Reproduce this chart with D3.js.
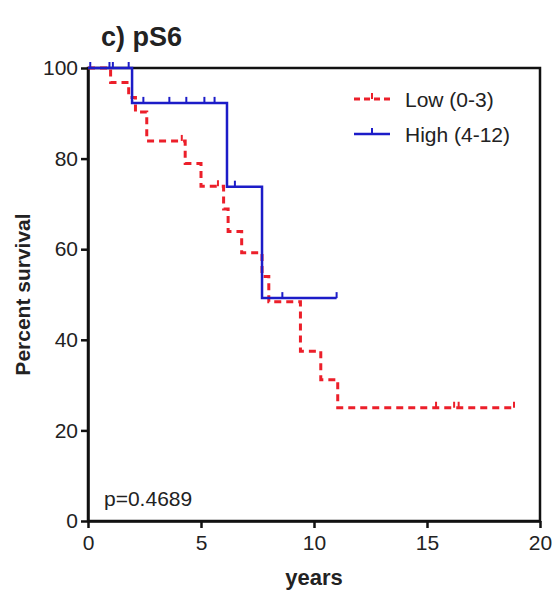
<!DOCTYPE html>
<html>
<head>
<meta charset="utf-8">
<script src="https://cdn.jsdelivr.net/npm/d3@7"></script>
<style>
  body { margin: 0; background: #fff; }
  text { font-family: "Liberation Sans", Arial, sans-serif; fill: #222; }
</style>
</head>
<body>
<svg></svg>
<script>
// Low (0-3) group: step times (years) and survival (%)
let lowTimes = [0, 1.0, 1.8, 2.1, 2.6, 4.3, 5.0, 6.0, 6.2, 6.8, 7.7, 8.0, 9.4, 10.3, 11.05]
let lowSurv  = [100, 96.8, 93.5, 90.3, 83.9, 78.9, 73.9, 68.9, 63.9, 59.2, 54.0, 48.4, 37.5, 31.2, 25.0]
let lowEnd = 18.85
let lowCensor = [4.15, 5.75, 15.4, 16.2, 16.4, 18.85]

// High (4-12) group
let highTimes = [0, 1.95, 6.15, 7.7]
let highSurv  = [100, 92.3, 73.8, 49.2]
let highEnd = 11.0
let highCensor = [0.1, 0.95, 1.1, 1.8, 2.45, 3.6, 4.35, 5.15, 5.6, 6.5, 8.6, 11.0]

let xTicks = [0, 5, 10, 15, 20]
let yTicks = [0, 20, 40, 60, 80, 100]

let width = 557
let height = 593
let mLeft = 88, mRight = 540, mTop = 68, mBottom = 521

let svg = d3.select('svg').attr('width', width).attr('height', height)

let xScale = d3.scaleLinear().domain([0, 20]).range([mLeft, mRight])
let yScale = d3.scaleLinear().domain([0, 100]).range([mBottom, mTop])

// frame
svg.append('rect')
  .attr('x', mLeft).attr('y', mTop)
  .attr('width', mRight - mLeft).attr('height', mBottom - mTop)
  .attr('fill', 'none').attr('stroke', '#111').attr('stroke-width', 2.5)

let xAxis = d3.axisBottom(xScale).tickValues(xTicks).tickSize(7).tickSizeOuter(0)
let gx = svg.append('g').attr('transform', 'translate(0,' + mBottom + ')').call(xAxis)
let yAxis = d3.axisLeft(yScale).tickValues(yTicks).tickSize(7).tickSizeOuter(0)
let gy = svg.append('g').attr('transform', 'translate(' + mLeft + ',0)').call(yAxis)

;[gx, gy].forEach(g => {
  g.select('.domain').attr('stroke', '#111').attr('stroke-width', 2.5)
  g.selectAll('.tick line').attr('stroke', '#111').attr('stroke-width', 2.5)
  g.selectAll('.tick text')
    .style('font-family', '"Liberation Sans", Arial, sans-serif')
    .style('font-size', '21px').attr('fill', '#1a1a1a')
})
gx.selectAll('.tick text').attr('dy', '0.92em')
gy.selectAll('.tick text').attr('x', -10)

let stepPts = (times, surv, end) => {
  let pts = times.map((t, i) => [t, surv[i]])
  pts.push([end, surv[surv.length - 1]])
  return pts
}
let survAt = (times, surv, t) => {
  let s = surv[0]
  times.forEach((tt, i) => { if (tt <= t) s = surv[i] })
  return s
}

let line = d3.line()
  .x(d => xScale(d[0]))
  .y(d => yScale(d[1]))
  .curve(d3.curveStepAfter)

let drawGroup = (times, surv, end, censor, color, dash, w) => {
  svg.append('path')
    .datum(stepPts(times, surv, end))
    .attr('d', line)
    .attr('fill', 'none')
    .attr('stroke', color)
    .attr('stroke-width', w)
    .attr('stroke-dasharray', dash)
  svg.selectAll(null)
    .data(censor)
    .enter()
    .append('line')
    .attr('x1', d => xScale(d)).attr('x2', d => xScale(d))
    .attr('y1', d => yScale(survAt(times, surv, d)))
    .attr('y2', d => yScale(survAt(times, surv, d)) - 6)
    .attr('stroke', color)
    .attr('stroke-width', 2)
}

drawGroup(lowTimes, lowSurv, lowEnd, lowCensor, '#ec1f2a', '7,5', 3)
drawGroup(highTimes, highSurv, highEnd, highCensor, '#1c1cc8', null, 2.5)

// legend
svg.append('line').attr('x1', 354).attr('x2', 390).attr('y1', 99).attr('y2', 99)
  .attr('stroke', '#ec1f2a').attr('stroke-width', 3).attr('stroke-dasharray', '6,4')
svg.append('line').attr('x1', 372).attr('x2', 372).attr('y1', 99).attr('y2', 93)
  .attr('stroke', '#ec1f2a').attr('stroke-width', 2)
svg.append('line').attr('x1', 354).attr('x2', 390).attr('y1', 134).attr('y2', 134)
  .attr('stroke', '#1c1cc8').attr('stroke-width', 2.5)
svg.append('line').attr('x1', 372).attr('x2', 372).attr('y1', 134).attr('y2', 128)
  .attr('stroke', '#1c1cc8').attr('stroke-width', 2)
svg.append('text').attr('x', 405).attr('y', 107).style('font-size', '21px').text('Low (0-3)')
svg.append('text').attr('x', 405).attr('y', 142).style('font-size', '21px').text('High (4-12)')

// annotations
svg.append('text').attr('x', 104).attr('y', 506).style('font-size', '21px').text('p=0.4689')
svg.append('text').attr('x', 101).attr('y', 46).style('font-size', '27px').style('font-weight', 'bold').text('c) pS6')
svg.append('text').attr('x', 314).attr('y', 585).attr('text-anchor', 'middle')
  .style('font-size', '22px').style('font-weight', 'bold').text('years')
svg.append('text').attr('transform', 'translate(30,' + ((mTop + mBottom) / 2) + ') rotate(-90)')
  .attr('text-anchor', 'middle').style('font-size', '21px').style('font-weight', 'bold').text('Percent survival')
</script>
</body>
</html>
